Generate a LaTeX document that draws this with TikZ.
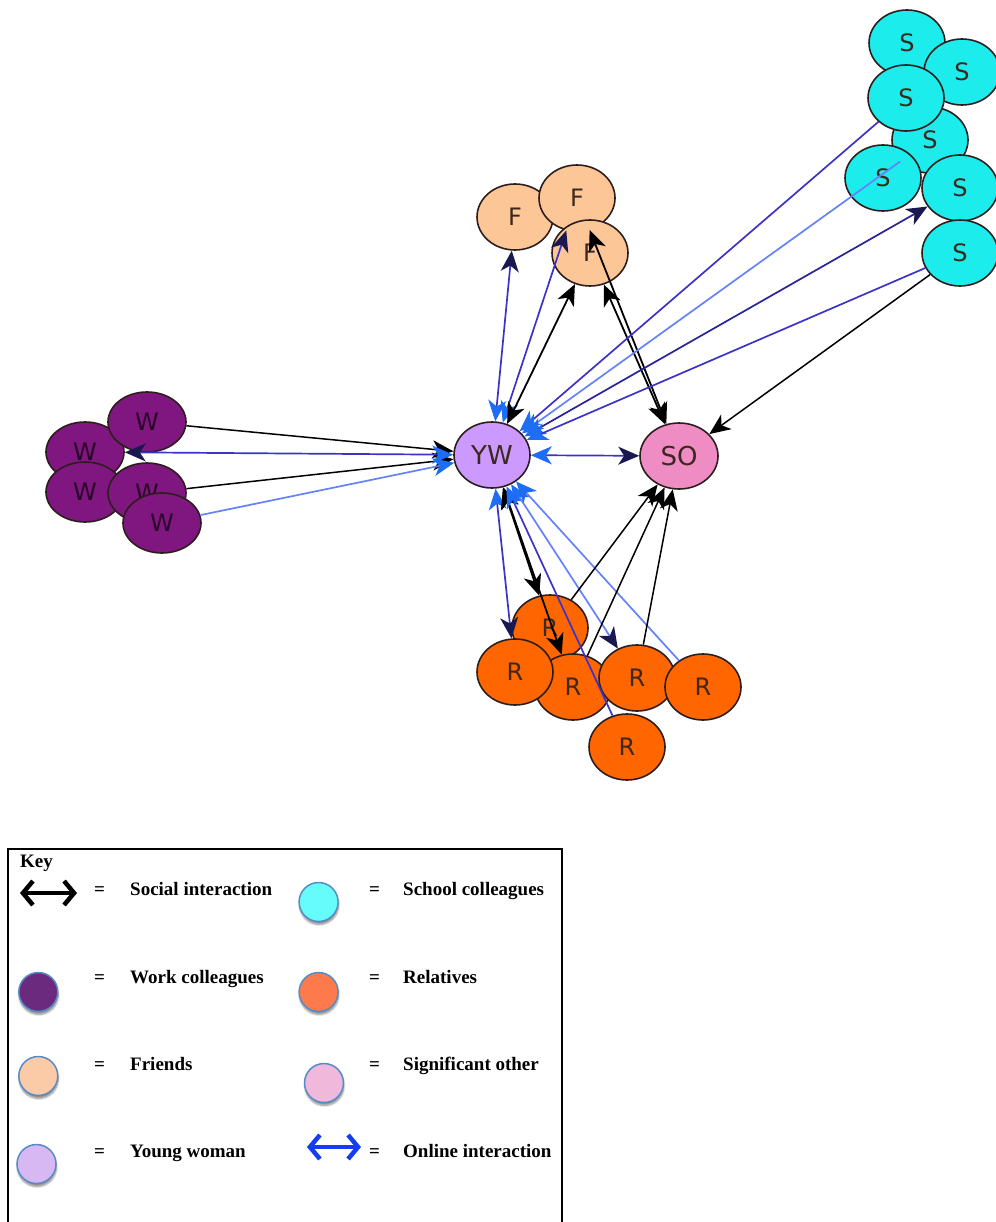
\documentclass[tikz,border=0pt]{standalone}
\usepackage{fontspec}
\setmainfont{Liberation Serif}
\newfontfamily\nodefont{DejaVu Sans}
\usetikzlibrary{shapes.geometric,arrows.meta,shadows.blur}

% node fills of the network
\definecolor{schoolc}{RGB}{28,236,236}
\definecolor{friendc}{RGB}{252,198,150}
\definecolor{workc}{RGB}{128,22,128}
\definecolor{relc}{RGB}{255,102,0}
\definecolor{ywc}{RGB}{204,153,255}
\definecolor{soc}{RGB}{240,140,196}
\definecolor{nodeline}{RGB}{45,30,30}
\definecolor{nodetext}{RGB}{60,40,30}
% connector colours
\definecolor{onlinedark}{RGB}{60,50,200}
\definecolor{onlinelight}{RGB}{100,130,250}
\definecolor{headblue}{RGB}{30,110,245}
\definecolor{headnavy}{RGB}{25,25,80}
% legend fills
\definecolor{kschoolc}{RGB}{102,252,252}
\definecolor{kworkc}{RGB}{108,42,126}
\definecolor{krelc}{RGB}{253,122,76}
\definecolor{kfriendc}{RGB}{251,203,167}
\definecolor{ksoc}{RGB}{240,184,218}
\definecolor{kywc}{RGB}{215,184,242}
\definecolor{kedge}{RGB}{85,140,200}
\definecolor{konline}{RGB}{20,60,240}

\tikzset{
  ywtip/.tip={Stealth[length=21pt,width=18pt,inset=6pt,color=headblue]},
  fartip/.tip={Stealth[length=21pt,width=18pt,inset=6pt,color=headnavy]},
  blktip/.tip={Stealth[length=21pt,width=18pt,inset=6pt,color=black]},
  pnode/.style={ellipse, draw=nodeline, line width=1.6pt,
    minimum width=76pt, minimum height=66pt, inner sep=0pt,
    font=\nodefont\fontsize{24}{24}\selectfont, text=nodetext},
  snode/.style={pnode, fill=schoolc},
  fnode/.style={pnode, fill=friendc},
  wnode/.style={pnode, fill=workc, minimum height=60pt, minimum width=78pt, text={rgb,255:red,40;green,5;blue,40}},
  rnode/.style={pnode, fill=relc},
  ywnode/.style={pnode, fill=ywc, font=\nodefont\fontsize{26}{26}\selectfont},
  sonode/.style={pnode, fill=soc, minimum width=78pt, font=\nodefont\fontsize{26}{26}\selectfont},
  onlboth/.style={draw=onlinedark, line width=1.7pt, arrows={ywtip-fartip}},
  onlin/.style={draw=onlinedark, line width=1.7pt, arrows={ywtip-}},
  socboth/.style={draw=black, line width=1.8pt, arrows={blktip-blktip}},
  socin/.style={draw=black, line width=1.5pt, arrows={-blktip}},
  keycirc/.style={circle, minimum size=39pt, inner sep=0pt, draw=kedge, line width=1.5pt,
    blur shadow={shadow xshift=0.5pt, shadow yshift=-3pt, shadow blur steps=6, shadow opacity=45}},
  keytext/.style={anchor=base west, inner sep=0pt, font=\bfseries\fontsize{19}{20}\selectfont},
  keyarrow/.style={line width=4.5pt, arrows={Straight Barb[length=10pt,width=24pt]-Straight Barb[length=10pt,width=24pt]}},
}

\begin{document}
\begin{tikzpicture}[x=1pt,y=-1pt]
\useasboundingbox (0,0) rectangle (995,1222);

% ---- friends
\node[fnode] (F1) at (515,217) {F};
\node[fnode] (F2) at (577,198) {F};
\node[fnode] (F3) at (590,253) {F};

% ---- school colleagues
\node[snode] (S1) at (907,43) {S};
\node[snode] (S2) at (962,72) {S};
\node[snode] (S4) at (930,140) {S};
\node[snode] (S3) at (906,98) {S};
\node[snode] (S5) at (883,178) {S};
\node[snode] (S6) at (960,188) {S};
\node[snode] (S7) at (960,253) {S};

% ---- work colleagues
\node[wnode] (W2) at (85,452) {W};
\node[wnode] (W1) at (147,422) {W};
\node[wnode] (W3) at (85,492) {W};
\node[wnode] (W4) at (147,493) {W};
\node[wnode] (W5) at (162,523) {W};

% ---- relatives
\node[rnode] (R6) at (627,747) {R};
\node[rnode] (R1) at (550,628) {R};
\node[rnode] (R3) at (573,687) {R};
\node[rnode] (R2) at (515,672) {R};
\node[rnode] (R4) at (637,678) {R};
\node[rnode] (R5) at (703,687) {R};

% ---- young woman and significant other
\node[ywnode] (YW) at (492,455) {YW};
\node[sonode] (SO) at (679,456) {SO};

% ---- work links
\draw[socin] (W1) -- (YW);
\draw[socin] (W4) -- (YW);
\draw[onlboth] (YW) -- (W2);
\draw[onlin, draw=onlinelight] (YW) -- (W5);

% ---- friend links
\draw[onlboth] (YW) -- (F1);
\draw[onlboth] (YW) -- (F2);
\draw[socboth] (YW) -- (F3);
\draw[socboth] (SO) -- (F3);
\draw[socboth] (SO) -- (F2);

% ---- school links
\draw[onlin] (YW) -- (S3);
\draw[onlin, draw=onlinelight] (YW) -- (S4);
\draw[onlboth, draw={rgb,255:red,40;green,35;blue,150}] (YW) -- (S6);
\draw[onlin] (YW) -- (S7);
\draw[socin] (S7) -- (SO);

% ---- partner link
\draw[onlboth] (YW) -- (SO);

% ---- relative links
\draw[onlboth] (YW) -- (R2);
\draw[socboth] (YW) -- (R1);
\draw[socboth] (YW) -- (R3);
\draw[onlin] (YW) -- (R6);
\draw[onlboth, draw=onlinelight] (YW) -- (R4);
\draw[onlin, draw=onlinelight] (YW) -- (R5);
\draw[socin] (R1) -- (SO);
\draw[socin] (R3) -- (SO);
\draw[socin] (R4) -- (SO);

% ---- legend frame (runs off the lower edge)
\draw[line width=1.8pt] (8,1222) -- (8,849) -- (562,849) -- (562,1222);
\node[keytext] (key) at (20,867) {Key};

% row 1
\coordinate (soca) at (20,893);
\coordinate (socb) at (77,893);
\draw[keyarrow, draw=black] (soca) -- (socb);
\node[keytext] (eq1) at (94,895) {=};
\node[keytext] (t1) at (130,895) {Social interaction};
\node[keycirc, fill=kschoolc] (c1) at (318.6,902) {};
\node[keytext] (eq2) at (369,895) {=};
\node[keytext] (t2) at (403,895) {School colleagues};

% row 2
\node[keycirc, fill=kworkc] (c2) at (38.3,992) {};
\node[keytext] (eq3) at (94,983) {=};
\node[keytext] (t3) at (130,983) {Work colleagues};
\node[keycirc, fill=krelc] (c3) at (318.6,992) {};
\node[keytext] (eq4) at (369,983) {=};
\node[keytext] (t4) at (403,983) {Relatives};

% row 3
\node[keycirc, fill=kfriendc] (c4) at (38.3,1076) {};
\node[keytext] (eq5) at (94,1070) {=};
\node[keytext] (t5) at (130,1070) {Friends};
\node[keycirc, fill=ksoc] (c5) at (324,1083) {};
\node[keytext] (eq6) at (369,1070) {=};
\node[keytext] (t6) at (403,1070) {Significant other};

% row 4
\node[keycirc, fill=kywc] (c6) at (36.5,1164) {};
\node[keytext] (eq7) at (94,1157) {=};
\node[keytext] (t7) at (130,1157) {Young woman};
\coordinate (onla) at (307,1147);
\coordinate (onlb) at (361,1147);
\draw[keyarrow, draw=konline] (onla) -- (onlb);
\node[keytext] (eq8) at (369,1157) {=};
\node[keytext] (t8) at (403,1157) {Online interaction};
\end{tikzpicture}
\end{document}
